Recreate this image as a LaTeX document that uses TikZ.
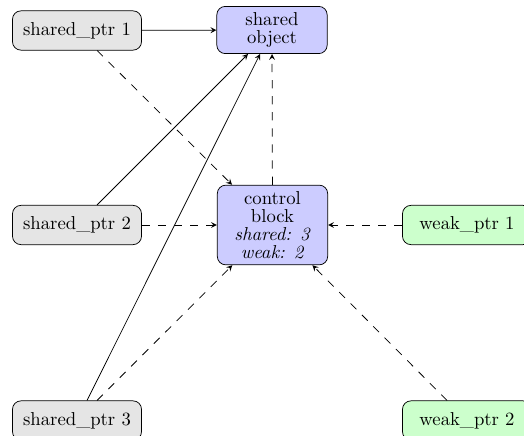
\documentclass[tikz,border=0pt]{standalone}
\usetikzlibrary{arrows}
\begin{document}
\begin{tikzpicture}[x=0.5348pt, y=-0.5348pt,
  box/.style={draw=black, rounded corners=4.5pt, align=center,
    font=\fontsize{10}{9.6}\selectfont, inner sep=3.33pt},
  ptrbox/.style={box, fill=black!10, minimum width=69pt, minimum height=21pt},
  weakbox/.style={box, fill=green!20, minimum width=69pt, minimum height=21pt},
  corebox/.style={box, fill=blue!20, minimum width=59pt},
  owns/.style={-stealth},
  refers/.style={-stealth, dash pattern=on 4.4pt off 4.2pt}]
  \useasboundingbox (0,0) rectangle (524,436);

  % pointers and the managed object
  \node[ptrbox]  (sp1) at (77,30.5)  {shared\textunderscore ptr 1};
  \node[corebox] (obj) at (272,30)   {shared\\object};
  \node[ptrbox]  (sp2) at (77,225)   {shared\textunderscore ptr 2};
  \node[corebox] (cb)  at (272.5,225)
    {control\\block\\\textit{shared: 3}\\\textit{weak: 2}};
  \node[weakbox] (wp1) at (467,225)  {weak\textunderscore ptr 1};
  \node[ptrbox]  (sp3) at (77,420.5) {shared\textunderscore ptr 3};
  \node[weakbox] (wp2) at (467,420.5) {weak\textunderscore ptr 2};

  % ownership of the object
  \draw[owns] (sp1) -- (obj);
  \draw[owns] (sp2) -- (obj);
  \draw[owns] (sp3) -- (obj);

  % references to the control block
  \draw[refers] (sp1) -- (cb);
  \draw[refers] (sp2) -- (cb);
  \draw[refers] (sp3) -- (cb);
  \draw[refers] (wp1) -- (cb);
  \draw[refers] (wp2) -- (cb);
  \draw[refers] (cb) -- (obj);
\end{tikzpicture}
\end{document}
